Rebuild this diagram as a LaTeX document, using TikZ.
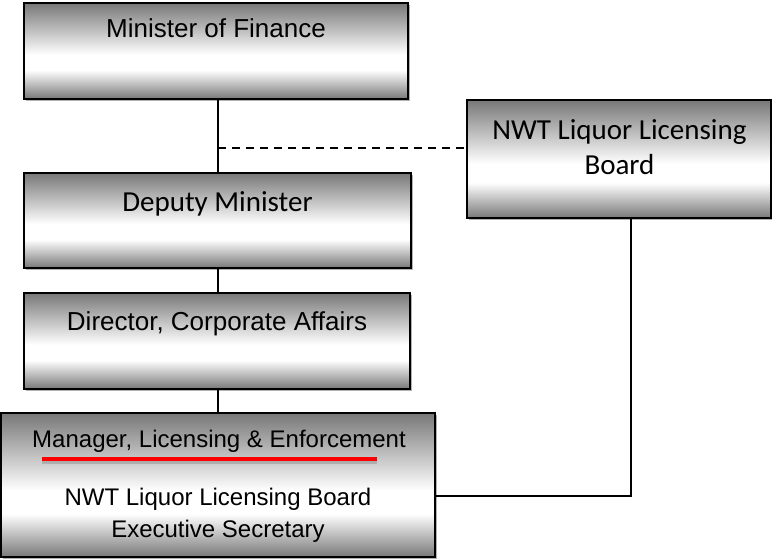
\documentclass[tikz,border=0pt]{standalone}
\usepackage{fontspec}
\setmainfont{Liberation Sans}
\newfontfamily\carlitofont{Carlito}
\usetikzlibrary{shadows}
\definecolor{bgray}{gray}{0.47}
\pgfdeclareverticalshading{boxshade}{100bp}{color(0bp)=(bgray); color(25bp)=(bgray); color(40bp)=(white); color(48bp)=(white); color(75bp)=(bgray); color(100bp)=(bgray)}
\tikzset{
  orgbox/.style={draw=black, line width=1.5pt, shade, shading=boxshade, inner sep=0pt,
    drop shadow={shadow xshift=2pt, shadow yshift=-2pt, opacity=0.3, fill=black}},
  ariallabel/.style={anchor=base, font=\fontsize{26}{30}\selectfont},
  ariallabelsm/.style={anchor=base, font=\fontsize{24}{28}\selectfont},
  carlitolabel/.style={anchor=base, font=\carlitofont\fontsize{29}{33}\selectfont},
  conn/.style={draw=black, line width=1.5pt},
}
\begin{document}
\begin{tikzpicture}[x=1pt,y=-1pt]
\useasboundingbox (0,0) rectangle (772,559);
% boxes
\node[orgbox, minimum width=384pt, minimum height=96pt] (b1) at (216,51) {};
\node[orgbox, minimum width=387pt, minimum height=95pt] (b2) at (217.5,220.5) {};
\node[orgbox, minimum width=386pt, minimum height=96pt] (b3) at (217,341) {};
\node[orgbox, minimum width=434pt, minimum height=144pt] (b4) at (218,485) {};
\node[orgbox, minimum width=304pt, minimum height=118pt] (b5) at (619,159) {};
% texts
\node[ariallabel] (t1) at (216,38) {Minister of Finance};
\node[carlitolabel] (t2) at (217.5,212) {Deputy Minister};
\node[ariallabel] (t3) at (217,330) {Director, Corporate Affairs};
\node[ariallabelsm] (t4a) at (219,447) {Manager, Licensing \& Enforcement};
\node[ariallabelsm] (t4b) at (218,505) {NWT Liquor Licensing Board};
\node[ariallabelsm] (t4c) at (218,537) {Executive Secretary};
\node[carlitolabel] (t5a) at (619.5,140) {NWT Liquor Licensing};
\node[carlitolabel] (t5b) at (619.5,175) {Board};
% red underline
\coordinate (ra) at (42,459);
\coordinate (rb) at (377,459);
\draw[line width=4pt, black, opacity=0.15] ([yshift=-2.5pt]ra) -- ([yshift=-2.5pt]rb);
\draw[line width=4pt, red] (ra) -- (rb);
% connectors
\coordinate (spine) at (218,0);
\draw[conn] (b1.south -| spine) -- (b2.north -| spine);
\draw[conn] (b2.south -| spine) -- (b3.north -| spine);
\draw[conn] (b3.south -| spine) -- (b4.north -| spine);
\coordinate (dj) at (218,148);
\draw[conn, dash pattern=on 8pt off 6pt] (dj) -- (dj -| b5.west);
\coordinate (bend) at (631,496);
\draw[conn] (b5.south -| bend) -- (bend) -- (bend -| b4.east);
\end{tikzpicture}
\end{document}
